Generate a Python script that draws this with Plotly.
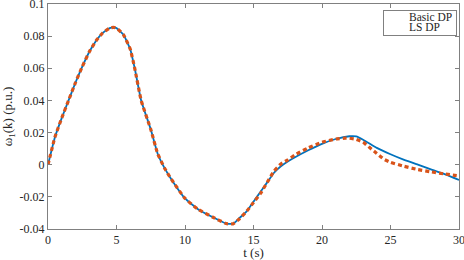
import plotly.graph_objects as go

# time axis (s) and frequency deviation of unit 1 (p.u.)
t_basic = [0, 0.5, 1, 1.5, 2, 2.5, 3, 3.5, 4, 4.5, 4.8, 5, 5.5, 6, 6.33, 6.8, 7.5, 8,
           8.5, 9, 10, 11, 12, 13, 13.5, 14, 14.5, 15, 15.5, 16, 16.5, 17, 17.5, 18,
           19, 20, 21, 22, 22.5, 23, 23.5, 24, 25, 26, 27, 28, 29, 30]
w_basic = [0, 0.017, 0.029, 0.04, 0.051, 0.061, 0.07, 0.077, 0.082, 0.085, 0.0855, 0.085,
           0.081, 0.072, 0.06, 0.04, 0.022, 0.007,
           -0.002, -0.009, -0.021, -0.028, -0.0325, -0.0366, -0.0368, -0.033, -0.029,
           -0.023, -0.017, -0.011, -0.005, -0.001, 0.002, 0.0045,
           0.009, 0.013, 0.016, 0.0177, 0.0176, 0.0155, 0.013, 0.0105, 0.0065, 0.003,
           0.0, -0.003, -0.006, -0.0095]

t_ls = [0, 0.5, 1, 1.5, 2, 2.5, 3, 3.5, 4, 4.5, 4.8, 5, 5.5, 6, 6.33, 6.8, 7.5, 8,
        8.5, 9, 10, 11, 12, 13, 13.5, 14, 14.5, 15, 15.5, 16, 16.5, 17, 17.5, 18,
        19, 20, 21, 21.7, 22, 22.5, 23, 23.5, 24, 24.5, 25, 26, 27, 28, 29, 30]
w_ls = [0, 0.017, 0.029, 0.04, 0.051, 0.061, 0.07, 0.077, 0.082, 0.085, 0.0855, 0.085,
        0.081, 0.072, 0.06, 0.04, 0.022, 0.007,
        -0.002, -0.009, -0.021, -0.028, -0.0325, -0.0366, -0.0368, -0.0335, -0.029,
        -0.0235, -0.018, -0.011, -0.004, 0.0005, 0.003, 0.006,
        0.0105, 0.014, 0.016, 0.0165, 0.0165, 0.0158, 0.014, 0.0105, 0.007, 0.0035,
        0.0015, -0.001, -0.003, -0.0045, -0.0058, -0.007]

x_ticks = [0, 5, 10, 15, 20, 25, 30]
y_ticks = [-0.04, -0.02, 0, 0.02, 0.04, 0.06, 0.08, 0.1]
y_labels = ['-0.04', '-0.02', '0', '0.02', '0.04', '0.06', '0.08', '0.1']

series_names = ['Basic DP', 'LS DP']
series_colors = ['#0072BD', '#D95319']

fig = go.Figure()
fig.add_trace(go.Scatter(x=t_basic, y=w_basic, mode='lines', name=series_names[0],
                         line=dict(color=series_colors[0], width=1.8,
                                   shape='spline', smoothing=0.4)))
fig.add_trace(go.Scatter(x=t_ls, y=w_ls, mode='lines', name=series_names[1],
                         line=dict(color=series_colors[1], width=3.2, dash='4px,3px',
                                   shape='spline', smoothing=0.4)))

axis_style = dict(showgrid=False, zeroline=False, showline=True, linecolor='#808080',
                  linewidth=1, mirror='ticks', ticks='inside', ticklen=4,
                  tickcolor='#808080', ticklabeloverflow='allow', automargin=False,
                  tickfont=dict(size=12, color='#262626'))

# compact legend: an empty bordered annotation as the frame, then sample lines and labels
fig.add_annotation(text=' ', xref='paper', yref='paper', x=0.995, y=0.973,
                   xanchor='right', yanchor='top', showarrow=False,
                   width=72, height=24, borderpad=0, borderwidth=1,
                   bordercolor='#808080', bgcolor='white')
row_y = [0.942, 0.896]
row_dash = ['solid', '4px,3px']
row_width = [1.8, 3.2]
for name, color, yy, dash, lw in zip(series_names, series_colors, row_y, row_dash, row_width):
    fig.add_shape(type='line', xref='paper', yref='paper', x0=0.818, x1=0.871,
                  y0=yy, y1=yy, layer='above',
                  line=dict(color=color, width=lw, dash=dash))
    fig.add_annotation(text=name, xref='paper', yref='paper', x=0.873, y=yy,
                       xanchor='left', yanchor='middle', showarrow=False,
                       font=dict(size=11.5, color='#262626'))

fig.update_layout(
    width=464, height=260,
    margin=dict(l=48, r=5, t=4, b=31, autoexpand=False),
    paper_bgcolor='white', plot_bgcolor='white',
    font=dict(family='Liberation Serif, Times New Roman, serif', color='#262626'),
    showlegend=False,
    xaxis=dict(range=[0, 30], tickvals=x_ticks,
               title=dict(text='t (s)', font=dict(size=13), standoff=3), **axis_style),
    yaxis=dict(range=[-0.04, 0.1], tickvals=y_ticks, ticktext=y_labels,
               title=dict(text='ω<sub>1</sub>(k) (p.u.)', font=dict(size=13), standoff=8),
               **axis_style),
)

# drop the page's default body margin so the figure sits at the window origin
fig.write_html("out.html", config={'displayModeBar': False},
               post_script="document.body.style.margin='0';")
